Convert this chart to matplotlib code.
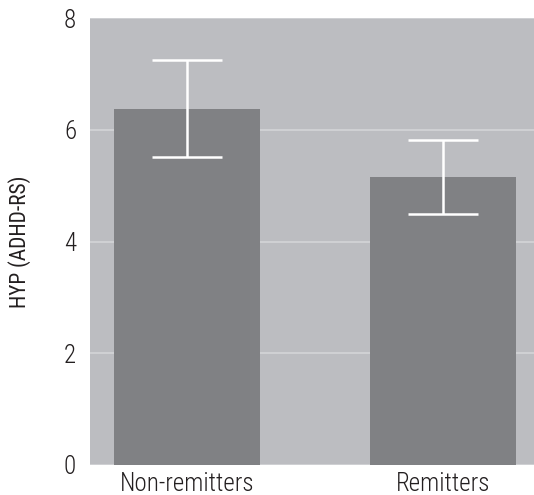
import matplotlib.pyplot as plt

groups = ['Non-remitters', 'Remitters']
means = [6.38, 5.15]
err_low = [5.52, 4.50]
err_high = [7.25, 5.81]

plt.rcParams['font.family'] = ['Roboto Condensed', 'DejaVu Sans']
plt.rcParams['font.weight'] = 300

fig = plt.figure(figsize=(5.34, 4.95), dpi=100)
ax = fig.add_axes([90 / 534, 1 - 465 / 495, 1 - 90 / 534, 447 / 495])
ax.set_facecolor('#bcbdc1')

x = list(range(len(groups)))
yerr = [[m - lo for m, lo in zip(means, err_low)],
        [hi - m for m, hi in zip(means, err_high)]]

ax.set_axisbelow(True)
ax.yaxis.grid(True, color='#d3d4d7', linewidth=1.2)
ax.bar(x, means, width=0.57, color='#808184', zorder=2)
ax.errorbar(x, means, yerr=yerr, fmt='none', ecolor='white',
            elinewidth=1.8, capsize=25, capthick=1.8, zorder=3)

ax.set_xlim(-0.379, 1.355)
ax.set_ylim(0, 8)
ax.set_yticks([0, 2, 4, 6, 8])
ax.set_xticks(x)
ax.set_xticklabels(groups)
ax.tick_params(length=0, labelsize=18, colors='#231f20')
ax.tick_params(axis='y', pad=10)
ax.tick_params(axis='x', pad=5)
for s in ax.spines.values():
    s.set_visible(False)
ax.set_ylabel('HYP (ADHD-RS)', fontsize=15.5, color='#231f20', labelpad=24)

fig.savefig('out.png', dpi=100)
